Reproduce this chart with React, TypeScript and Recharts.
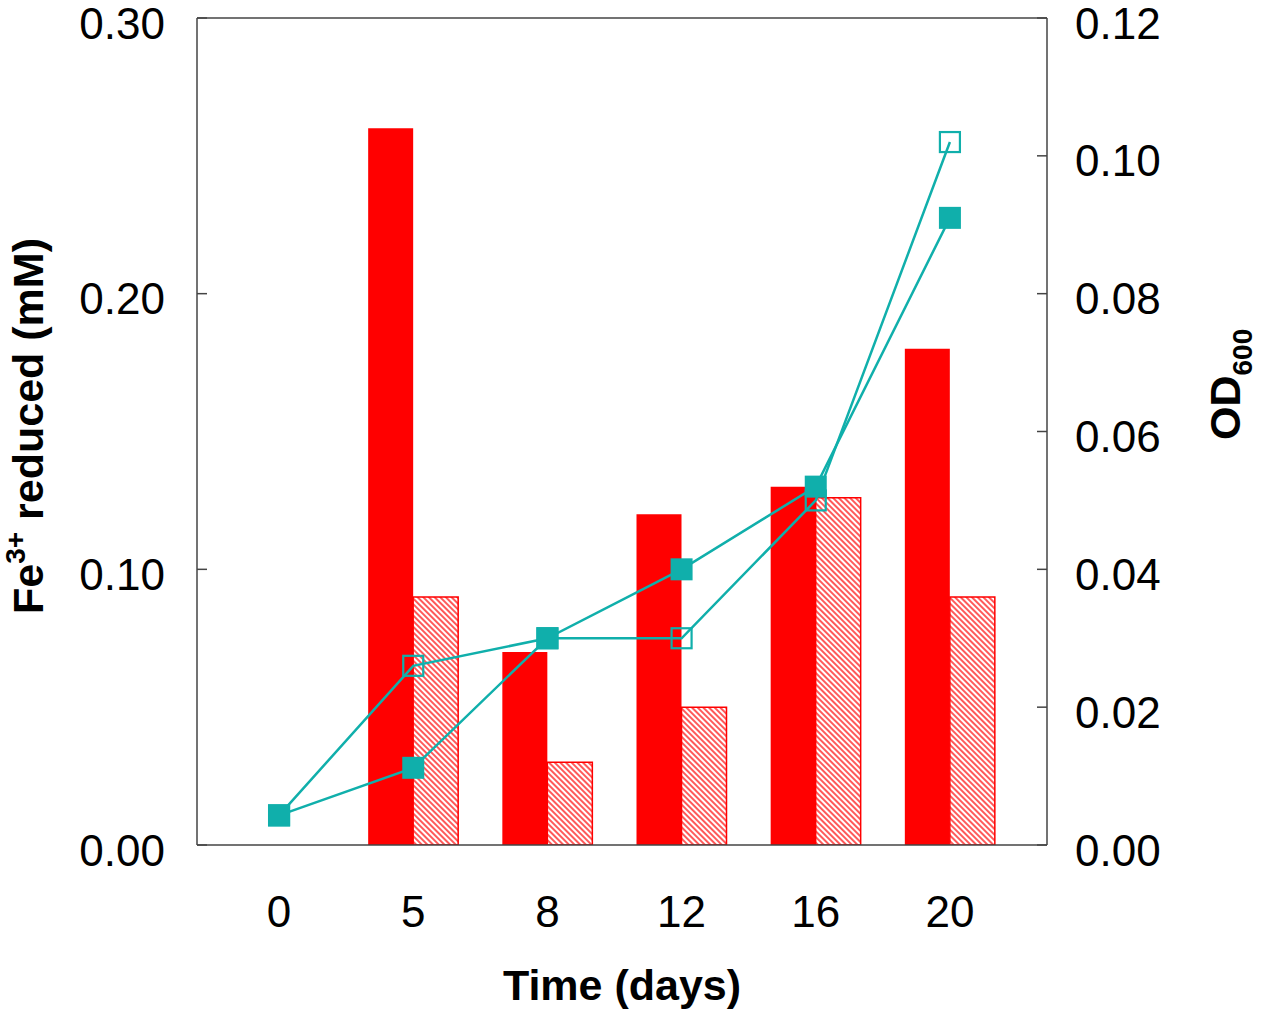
import { ComposedChart, Bar, Line, XAxis, YAxis, ReferenceLine } from 'recharts';

// Fe3+ reduced (mM), left axis
const days = ['0', '5', '8', '12', '16', '20'];
const feSolid = [0, 0.26, 0.07, 0.12, 0.13, 0.18];
const feHatched = [0, 0.09, 0.03, 0.05, 0.126, 0.09];

// OD600, right axis
const odFilled = [0.0043, 0.0112, 0.030, 0.040, 0.052, 0.091];
const odOpen = [0.0043, 0.026, 0.030, 0.030, 0.050, 0.102];

const leftTicks = [0, 0.1, 0.2, 0.3];
const rightTicks = [0, 0.02, 0.04, 0.06, 0.08, 0.1, 0.12];

const data = days.map((d, i) => ({
  day: d,
  solid: feSolid[i],
  hatched: feHatched[i],
  filled: odFilled[i],
  open: odOpen[i],
}));

const RED = '#ff0000';
const TEAL = '#10afab';
const AXIS = '#444';
const FONT = '"Liberation Sans", Arial, sans-serif';

const LeftTick = (props: any) => {
  const { x, y, payload } = props;
  return (
    <g>
      <line x1={x} x2={x + 10} y1={y} y2={y} stroke={AXIS} strokeWidth={1.5} />
      <text x={x - 32} y={y + 5} textAnchor="end" dominantBaseline="central" fontSize={44} fontFamily={FONT} fill="#000">
        {Number(payload.value).toFixed(2)}
      </text>
    </g>
  );
};

const RightTick = (props: any) => {
  const { x, y, payload } = props;
  return (
    <g>
      <line x1={x - 10} x2={x} y1={y} y2={y} stroke={AXIS} strokeWidth={1.5} />
      <text x={x + 28} y={y + 5} textAnchor="start" dominantBaseline="central" fontSize={44} fontFamily={FONT} fill="#000">
        {Number(payload.value).toFixed(2)}
      </text>
    </g>
  );
};

const BottomTick = (props: any) => {
  const { x, y, payload } = props;
  return (
    <text x={x} y={y + 66} textAnchor="middle" dominantBaseline="central" fontSize={44} fontFamily={FONT} fill="#000">
      {payload.value}
    </text>
  );
};

const FilledSquare = (props: any) => {
  const { cx, cy, index } = props;
  return <rect key={`f-${index}`} x={cx - 11} y={cy - 11} width={22} height={22} fill={TEAL} />;
};

const OpenSquare = (props: any) => {
  const { cx, cy, index } = props;
  return <rect key={`o-${index}`} x={cx - 10} y={cy - 10} width={20} height={20} fill="none" stroke={TEAL} strokeWidth={2.2} />;
};

const App = () => {
  return (
    <div style={{ position: 'absolute', left: 0, top: 0 }}>
      <svg width={0} height={0} style={{ position: 'absolute' }}>
        <defs>
          <pattern id="hatch" patternUnits="userSpaceOnUse" width={4} height={4} patternTransform="rotate(-45)">
            <rect width={4} height={4} fill="#fff" />
            <line x1={1} y1={0} x2={1} y2={4} stroke={RED} strokeWidth={1.3} />
          </pattern>
        </defs>
      </svg>
      <ComposedChart
        width={1267}
        height={1018}
        data={data}
        margin={{ top: 18, right: 0, bottom: 0, left: 0 }}
        barGap={0}
        barSize={45}
      >
        <XAxis
          dataKey="day"
          height={173}
          padding={{ left: 15, right: 30 }}
          axisLine={{ stroke: AXIS, strokeWidth: 1.5 }}
          tickLine={false}
          tickSize={0}
          tickMargin={0}
          tick={<BottomTick />}
          interval={0}
          label={{
            content: () => (
              <text x={622} y={1000} textAnchor="middle" fontSize={43} fontWeight="bold" fontFamily={FONT} fill="#000">
                Time (days)
              </text>
            ),
          }}
        />
        <YAxis
          yAxisId="left"
          width={197}
          domain={[0, 0.3]}
          ticks={leftTicks}
          allowDataOverflow
          axisLine={{ stroke: AXIS, strokeWidth: 1.5 }}
          tickLine={false}
          tickSize={0}
          tickMargin={0}
          tick={<LeftTick />}
          label={{
            content: () => (
              <text
                transform="translate(43, 426) rotate(-90)"
                textAnchor="middle"
                fontSize={43}
                fontWeight="bold"
                fontFamily={FONT}
                fill="#000"
              >
                Fe<tspan fontSize={28} dy={-18}>3+</tspan>
                <tspan dy={18}> reduced (mM)</tspan>
              </text>
            ),
          }}
        />
        <YAxis
          yAxisId="right"
          orientation="right"
          width={220}
          domain={[0, 0.12]}
          ticks={rightTicks}
          allowDataOverflow
          axisLine={{ stroke: AXIS, strokeWidth: 1.5 }}
          tickLine={false}
          tickSize={0}
          tickMargin={0}
          tick={<RightTick />}
          label={{
            content: () => (
              <text
                transform="translate(1240, 440) rotate(-90)"
                textAnchor="start"
                fontSize={43}
                fontWeight="bold"
                fontFamily={FONT}
                fill="#000"
              >
                OD<tspan fontSize={28} dy={12}>600</tspan>
              </text>
            ),
          }}
        />
        <ReferenceLine yAxisId="left" y={0.3} stroke={AXIS} strokeWidth={1.5} />
        <Bar yAxisId="left" dataKey="solid" fill={RED} isAnimationActive={false} />
        <Bar
          yAxisId="left"
          dataKey="hatched"
          fill="url(#hatch)"
          stroke={RED}
          strokeWidth={1.5}
          isAnimationActive={false}
        />
        <Line
          yAxisId="right"
          dataKey="open"
          stroke={TEAL}
          strokeWidth={2.5}
          dot={<OpenSquare />}
          activeDot={false}
          isAnimationActive={false}
        />
        <Line
          yAxisId="right"
          dataKey="filled"
          stroke={TEAL}
          strokeWidth={2.5}
          dot={<FilledSquare />}
          activeDot={false}
          isAnimationActive={false}
        />
      </ComposedChart>
    </div>
  );
};

export default App;
